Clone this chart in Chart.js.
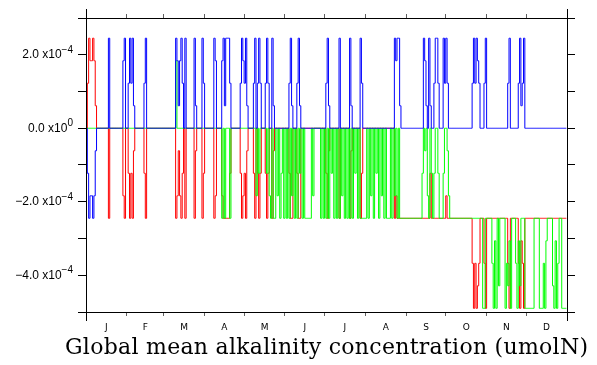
<!DOCTYPE html>
<html>
<head>
<meta charset="utf-8">
<script src="https://cdn.jsdelivr.net/npm/chart.js@4.4.1/dist/chart.umd.min.js"></script>
<style>
html, body { margin: 0; padding: 0; background: #fff; }
</style>
</head>
<body>
<canvas id="alkalinityChart" width="597" height="365"></canvas>
<script>
var chartTitle = 'Global mean alkalinity concentration (umolN)';

// month boundaries (day of year) and month letters
var monthBounds = [0, 31, 59, 90, 120, 151, 181, 212, 243, 273, 304, 334, 365];
var monthLetters = ['J', 'F', 'M', 'A', 'M', 'J', 'J', 'A', 'S', 'O', 'N', 'D'];

// y axis ticks and labels
var yTickValues = [-5e-4, -4e-4, -3e-4, -2e-4, -1e-4, 0, 1e-4, 2e-4, 3e-4];
var yLabelValues = [-4e-4, -2e-4, 0, 2e-4];
var yLabelMantissa = ['\u22124.0 x10', '\u22122.0 x10', '0.0 x10', '2.0 x10'];
var yLabelExponent = ['\u22124', '\u22124', '0', '\u22124'];

// values come in steps of about 0.6125e-4; series kept as levels of that step
var levelStep = 0.6125e-4;

// daily levels, one row per month
var blueLevels = [
  0,-2,-4,-3,-3,-4,-3,-1,0,0,0,0,0,0,0,0,0,4,0,0,0,0,0,0,0,0,0,0,3,4,0,
  0,2,4,2,4,1,0,0,0,0,0,0,0,2,4,0,0,0,0,0,0,0,0,0,0,0,0,0,
  0,0,0,0,0,0,0,0,0,4,3,1,3,4,2,0,4,0,0,0,0,0,0,4,1,0,0,0,0,4,2,
  0,0,0,0,0,0,0,4,3,0,0,0,0,3,4,1,4,4,4,2,0,0,0,0,0,0,0,2,4,3,
  2,4,1,0,0,0,0,2,4,0,2,4,2,0,0,0,2,4,2,0,0,4,1,0,0,0,0,0,0,0,0,
  0,0,0,2,4,1,0,0,0,2,4,1,0,0,0,0,0,0,0,0,0,0,0,0,0,0,0,0,0,0,
  0,2,4,1,0,0,0,0,0,0,0,4,0,0,0,0,0,0,0,4,1,0,0,0,0,0,0,4,2,0,0,
  0,0,0,0,0,0,0,0,0,0,0,0,0,0,0,0,0,0,0,0,0,0,4,3,4,4,1,0,0,0,0,
  0,0,0,0,0,0,0,0,0,0,0,0,0,4,3,1,0,4,1,0,0,2,4,4,2,0,0,0,4,2,
  4,2,0,0,0,0,0,0,0,0,0,0,0,0,0,0,0,0,0,0,2,4,2,4,3,2,0,0,0,2,4,
  0,0,0,0,0,0,0,0,0,0,0,0,0,0,0,0,2,4,0,0,0,0,0,0,2,4,1,2,4,0,
  0,0,0,0,0,0,0,0,0,0,0,0,0,0,0,0,0,0,0,0,0,0,0,0,0,0,0,0,0,0,0
];

var redLevels = [
  0,2,4,3,3,4,3,1,0,0,0,0,0,0,0,0,0,-4,0,0,0,0,0,0,0,0,0,0,-3,-4,0,
  0,-2,-4,-2,-4,-1,0,0,0,0,0,0,0,-2,-4,0,0,0,0,0,0,0,0,0,0,0,0,0,
  0,0,0,0,0,0,0,0,0,-4,-3,-1,-3,-4,-2,0,-4,0,0,0,0,0,0,-4,-1,0,0,0,0,-4,-2,
  0,0,0,0,0,0,0,-4,-3,0,0,0,0,-3,-4,-4,-4,-4,-4,-2,0,0,0,0,0,0,0,-2,-4,-3,
  -2,-4,-1,0,0,0,0,-2,-4,0,-2,-4,-2,0,0,0,-2,-4,-2,0,0,-4,-1,0,0,0,0,0,0,0,0,
  0,0,0,-2,-4,-4,0,0,0,-2,-4,-4,0,0,0,0,0,0,0,0,0,0,0,0,0,0,0,0,0,0,
  0,-2,-4,-1,0,0,0,0,0,0,0,-4,0,0,0,0,0,0,0,-4,-1,0,0,0,0,0,0,-4,-2,0,0,
  0,0,0,0,0,0,0,0,0,0,0,0,0,0,0,0,0,0,0,0,0,0,-4,-3,-4,-4,-4,-4,-4,-4,-4,
  -4,-4,-4,-4,-4,-4,-4,-4,-4,-4,-4,-4,-4,-4,-4,-4,-4,-4,-2,-4,-4,-4,-4,-4,-4,-4,-4,-4,-4,-4,
  -3,-4,-4,-4,-4,-4,-4,-4,-4,-4,-4,-4,-4,-4,-4,-4,-4,-4,-4,-4,-6,-8,-6,-8,-7,-6,-4,-4,-4,-6,-8,
  -4,-4,-4,-4,-4,-4,-4,-4,-4,-4,-4,-4,-4,-4,-4,-4,-6,-8,-4,-4,-4,-4,-4,-4,-6,-8,-5,-6,-8,-4,
  -4,-4,-4,-4,-4,-4,-4,-4,-4,-4,-4,-4,-4,-4,-4,-4,-4,-4,-4,-4,-4,-4,-4,-4,-4,-4,-4,-4,-4,-4,-4
];

var greenLevels = [
  0,0,0,0,0,0,0,0,0,0,0,0,0,0,0,0,0,0,0,0,0,0,0,0,0,0,0,0,0,0,0,
  0,0,0,0,0,0,0,0,0,0,0,0,0,0,0,0,0,0,0,0,0,0,0,0,0,0,0,0,
  0,0,0,0,0,0,0,0,0,3,0,0,0,0,0,0,0,0,0,0,0,0,0,0,0,0,0,0,0,0,0,
  0,0,0,0,0,0,0,0,0,0,0,0,0,-4,0,-4,0,0,0,-4,0,0,0,0,0,0,0,0,0,0,
  0,0,0,0,0,0,0,0,0,-3,0,-2,0,0,0,0,0,-2,0,-3,-4,0,-4,-4,0,-3,0,-4,-2,0,-4,
  0,-4,0,-4,0,-3,0,-4,0,-4,0,-2,0,-4,0,-4,-4,-4,-4,-4,0,-3,0,0,0,0,0,-4,0,-4,
  0,-4,0,-4,0,-2,0,-4,0,-4,0,-4,0,-3,0,-4,0,-4,0,-4,0,-4,0,-2,0,-4,0,-4,-4,-4,-4,
  -4,0,-4,0,-3,0,-4,0,-2,0,-4,0,-3,0,-4,0,-4,-4,-4,0,-4,0,-3,0,-4,0,-4,-4,-4,-4,-4,
  -4,-4,-4,-4,-4,-4,-4,-4,-4,-4,-4,-4,-2,0,-1,0,-3,-4,0,-2,-4,-2,0,0,-2,-4,-4,-4,-2,0,
  0,-1,-3,-4,-4,-4,-4,-4,-4,-4,-4,-4,-4,-4,-4,-4,-4,-4,-4,-4,-4,-4,-4,-4,-4,-4,-4,-4,-8,-8,-4,
  -4,-4,-4,-4,-6,-8,-5,-8,-4,-7,-4,-4,-4,-4,-8,-6,-7,-5,-8,-4,-4,-4,-6,-8,-5,-7,-4,-4,-4,-8,
  -8,-8,-8,-8,-8,-8,-4,-4,-4,-4,-8,-8,-8,-6,-8,-5,-4,-4,-4,-4,-7,-8,-5,-8,-6,-4,-4,-8,-8,-8,-8
];

function toPoints(levels){
    return levels.map(function(level, day){
        return {x: day + 0.5, y: level * levelStep};
    });
}

function monthTicks(withMidpoints){
    var values = monthBounds.slice();
    if (withMidpoints){
        for (var i = 0; i < monthLetters.length; i++){
            values.push((monthBounds[i] + monthBounds[i + 1]) / 2);
        }
    }
    values.sort(function(a, b){ return a - b; });
    return values.map(function(v){ return {value: v}; });
}

function monthLabel(value){
    for (var i = 0; i < monthLetters.length; i++){
        if ((monthBounds[i] + monthBounds[i + 1]) / 2 === value) return monthLetters[i];
    }
    return '';
}

function boundaryTickColor(ctx){
    if (ctx.tick && monthBounds.indexOf(ctx.tick.value) !== -1) return '#606060';
    return 'rgba(0,0,0,0)';
}

// frame corners stick out past the box, y labels carry a raised exponent,
// and the wide serif title under the axis
var frameAndLabels = {
    id: 'frameAndLabels',
    afterDraw: function(chart){
        var ctx = chart.ctx;
        var area = chart.chartArea;
        ctx.save();
        ctx.strokeStyle = '#000';
        ctx.lineWidth = 1;
        ctx.beginPath();
        ctx.moveTo(Math.round(area.left) + 0.5, area.top - 9);
        ctx.lineTo(Math.round(area.left) + 0.5, area.bottom + 9);
        ctx.moveTo(Math.round(area.right) + 0.5, area.top - 9);
        ctx.lineTo(Math.round(area.right) + 0.5, area.bottom + 9);
        ctx.stroke();

        var yScale = chart.scales.y;
        var mainFont = '12px "Liberation Sans", Arial, sans-serif';
        var expFont = '10px "Liberation Sans", Arial, sans-serif';
        ctx.fillStyle = '#000';
        ctx.textBaseline = 'middle';
        ctx.textAlign = 'left';
        for (var i = 0; i < yLabelValues.length; i++){
            var y = yScale.getPixelForValue(yLabelValues[i]);
            ctx.font = mainFont;
            var wMain = ctx.measureText(yLabelMantissa[i]).width;
            ctx.font = expFont;
            var wExp = ctx.measureText(yLabelExponent[i]).width;
            var xStart = 73 - wMain - wExp;
            ctx.font = mainFont;
            ctx.fillText(yLabelMantissa[i], xStart, y);
            ctx.font = expFont;
            ctx.fillText(yLabelExponent[i], xStart + wMain, y - 5);
        }

        // title spread over 523px, centred under the plot
        ctx.font = '22px "DejaVu Serif", serif';
        ctx.textBaseline = 'alphabetic';
        var chars = chartTitle.split('');
        var widths = chars.map(function(c){ return ctx.measureText(c).width; });
        var total = widths.reduce(function(a, b){ return a + b; }, 0);
        var span = 523;
        var gap = (span - total) / (chars.length - 1);
        var x = (area.left + area.right) / 2 - span / 2;
        for (var k = 0; k < chars.length; k++){
            ctx.fillText(chars[k], x, 354);
            x += widths[k] + gap;
        }
        ctx.restore();
    }
};

var chartData = {
    datasets: [
        {label: 'blue', data: toPoints(blueLevels), borderColor: '#0000ff', order: 0},
        {label: 'green', data: toPoints(greenLevels), borderColor: '#00ff00', order: 1},
        {label: 'red', data: toPoints(redLevels), borderColor: '#ff0000', order: 2}
    ]
};

var chartOptions = {
    responsive: false,
    animation: false,
    layout: {padding: 0, autoPadding: false},
    elements: {
        point: {radius: 0, hoverRadius: 0},
        line: {borderWidth: 1, tension: 0, fill: false, stepped: 'middle'}
    },
    plugins: {legend: {display: false}, tooltip: {enabled: false}},
    scales: {
        x: {
            type: 'linear', position: 'bottom', min: 0, max: 365,
            afterBuildTicks: function(scale){ scale.ticks = monthTicks(true); },
            afterFit: function(scale){ scale.height = 53; },
            border: {color: '#000', width: 1},
            grid: {drawOnChartArea: false, tickLength: 4, tickColor: boundaryTickColor},
            ticks: {
                autoSkip: false, maxRotation: 0, padding: 6, color: '#000',
                font: {family: 'DejaVu Sans', size: 9},
                callback: function(value){ return monthLabel(value); }
            }
        },
        xTop: {
            type: 'linear', position: 'top', min: 0, max: 365,
            afterBuildTicks: function(scale){ scale.ticks = monthTicks(false); },
            afterFit: function(scale){ scale.height = 18; },
            border: {color: '#000', width: 1},
            grid: {drawOnChartArea: false, tickLength: 4, tickColor: '#606060'},
            ticks: {display: false}
        },
        y: {
            type: 'linear', position: 'left', min: -5e-4, max: 3e-4,
            afterBuildTicks: function(scale){ scale.ticks = yTickValues.map(function(v){ return {value: v}; }); },
            afterFit: function(scale){ scale.width = 86; },
            border: {color: '#000', width: 1},
            grid: {drawOnChartArea: false, tickLength: 8, tickColor: '#000'},
            ticks: {display: false}
        },
        yRight: {
            type: 'linear', position: 'right', min: -5e-4, max: 3e-4,
            afterBuildTicks: function(scale){ scale.ticks = yTickValues.map(function(v){ return {value: v}; }); },
            afterFit: function(scale){ scale.width = 30; },
            border: {color: '#000', width: 1},
            grid: {drawOnChartArea: false, tickLength: 8, tickColor: '#000'},
            ticks: {display: false}
        }
    }
};

var alkalinityChart = new Chart(document.getElementById('alkalinityChart').getContext('2d'), {
    type: 'line',
    data: chartData,
    options: chartOptions,
    plugins: [frameAndLabels]
});
</script>
</body>
</html>
